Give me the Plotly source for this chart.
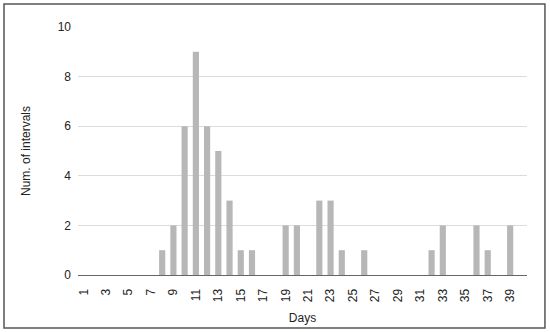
import plotly.graph_objects as go

# Histogram of interval lengths (days 1..40)
days = list(range(1, 41))
counts = [0, 0, 0, 0, 0, 0, 0, 1, 2, 6,
          9, 6, 5, 3, 1, 1, 0, 0, 2, 2,
          0, 3, 3, 1, 0, 1, 0, 0, 0, 0,
          0, 1, 2, 0, 0, 2, 1, 0, 2, 0]
tick_days = list(range(1, 40, 2))

fig = go.Figure(go.Bar(
    x=days,
    y=counts,
    marker=dict(color="#b7b7b7", line=dict(width=0)),
))

fig.update_layout(
    width=550,
    height=332,
    margin=dict(l=78, r=23, t=27, b=57, autoexpand=False),
    paper_bgcolor="white",
    plot_bgcolor="white",
    bargap=0.45,
    showlegend=False,
    font=dict(family="Liberation Sans, Arial", size=12, color="#222"),
    shapes=[dict(
        type="rect", xref="paper", yref="paper",
        x0=-0.1648, x1=1.040, y0=-0.2137, y1=1.0927,
        line=dict(color="#555", width=1.5),
    )],
)

fig.update_xaxes(
    range=[0.5, 40.5],
    tickmode="array",
    tickvals=tick_days,
    ticktext=[str(d) for d in tick_days],
    tickangle=-90,
    showgrid=False,
    zeroline=False,
    showline=True,
    linecolor="#666",
    linewidth=1,
    ticks="",
    ticklabelstandoff=8,
    tickfont=dict(size=12),
    title=dict(text="Days", standoff=12, font=dict(size=12)),
)

fig.update_yaxes(
    range=[0, 10],
    tickvals=[0, 2, 4, 6, 8, 10],
    showgrid=True,
    gridcolor="#dcdcdc",
    zeroline=False,
    showline=False,
    ticks="",
    ticklabelstandoff=6,
    tickfont=dict(size=12),
    title=dict(text="Num. of intervals", standoff=24, font=dict(size=12)),
)

fig.write_html("out.html", config={"displayModeBar": False},
               post_script="document.body.style.margin='0px';")
